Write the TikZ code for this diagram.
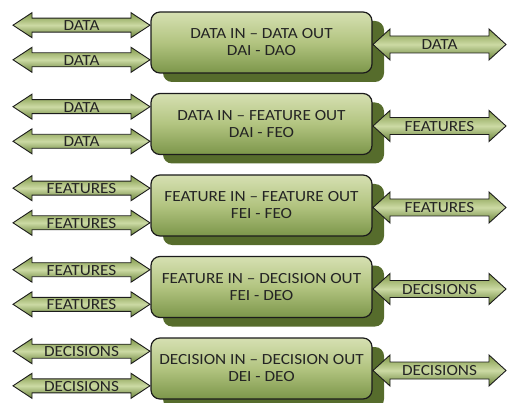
\documentclass[tikz,border=0pt]{standalone}
\usepackage{fontspec}
\setmainfont{Carlito}[FakeStretch=1.11]
\usetikzlibrary{shadows}

\definecolor{boxtop}{RGB}{214,224,178}
\definecolor{boxbot}{RGB}{124,150,74}
\definecolor{boxmid}{RGB}{178,196,128}
\definecolor{shadowgreen}{RGB}{86,108,44}
\definecolor{arrtop}{RGB}{128,152,72}
\definecolor{arrmid}{RGB}{204,218,164}
\definecolor{arrbot}{RGB}{104,130,56}
\definecolor{inkgray}{RGB}{36,36,36}
\definecolor{edgegray}{RGB}{28,28,28}

\tikzset{
  stagebox/.style={draw=edgegray, line width=1.2pt, rounded corners=9pt,
    minimum width=221pt, minimum height=61pt, align=center,
    top color=boxtop, bottom color=boxbot, middle color=boxmid,
    text=inkgray, font=\fontsize{15.5}{17}\selectfont,
    drop shadow={shadow xshift=12pt, shadow yshift=-9pt, opacity=1,
      fill=shadowgreen}},
  arrowbody/.style={draw=edgegray, line width=0.9pt, line join=miter,
    top color=arrtop, bottom color=arrbot, middle color=arrmid},
  flowlabel/.style={text=inkgray, inner sep=0pt, font=\fontsize{15.5}{15.5}\selectfont}
}

% #1 name, #2 centre x, #3 centre y, #4 half length, #5 head half height,
% #6 shaft half height, #7 head length, #8 label
\newcommand\twoway[8]{%
  \path[arrowbody]
    ({#2-#4},{#3}) -- ({#2-#4+#7},{#3-#5}) -- ({#2-#4+#7},{#3-#6})
    -- ({#2+#4-#7},{#3-#6}) -- ({#2+#4-#7},{#3-#5}) -- ({#2+#4},{#3})
    -- ({#2+#4-#7},{#3+#5}) -- ({#2+#4-#7},{#3+#6})
    -- ({#2-#4+#7},{#3+#6}) -- ({#2-#4+#7},{#3+#5}) -- cycle;
  \node[flowlabel] (#1) at (#2,{#3+0.5}) {#8};
}
\newcommand\inarrow[3]{\twoway{#1}{81.5}{#2}{68.5}{12.5}{7}{19}{#3}}
\newcommand\outarrow[3]{\twoway{#1}{439.5}{#2}{66.5}{15.5}{8.5}{17}{#3}}

\begin{document}
\begin{tikzpicture}[x=1pt, y=-1pt]
  \useasboundingbox (0,0) rectangle (508,403);

  % processing stages
  \node[stagebox] (s1) at (261.5,42.5)  {DATA IN -- DATA OUT\\DAI - DAO};
  \node[stagebox] (s2) at (261.5,124)   {DATA IN -- FEATURE OUT\\DAI - FEO};
  \node[stagebox] (s3) at (261.5,205.5) {FEATURE IN -- FEATURE OUT\\FEI - FEO};
  \node[stagebox] (s4) at (261.5,287)   {FEATURE IN -- DECISION OUT\\FEI - DEO};
  \node[stagebox] (s5) at (261.5,368.5) {DECISION IN -- DECISION OUT\\DEI - DEO};

  % inputs
  \inarrow{i1a}{25.2}{DATA}
  \inarrow{i1b}{59.8}{DATA}
  \inarrow{i2a}{106.7}{DATA}
  \inarrow{i2b}{141.3}{DATA}
  \inarrow{i3a}{188.2}{FEATURES}
  \inarrow{i3b}{222.8}{FEATURES}
  \inarrow{i4a}{269.7}{FEATURES}
  \inarrow{i4b}{304.3}{FEATURES}
  \inarrow{i5a}{351.2}{DECISIONS}
  \inarrow{i5b}{385.8}{DECISIONS}

  % outputs
  \outarrow{o1}{44.5}{DATA}
  \outarrow{o2}{126}{FEATURES}
  \outarrow{o3}{207.5}{FEATURES}
  \outarrow{o4}{289}{DECISIONS}
  \outarrow{o5}{370.5}{DECISIONS}
\end{tikzpicture}
\end{document}
